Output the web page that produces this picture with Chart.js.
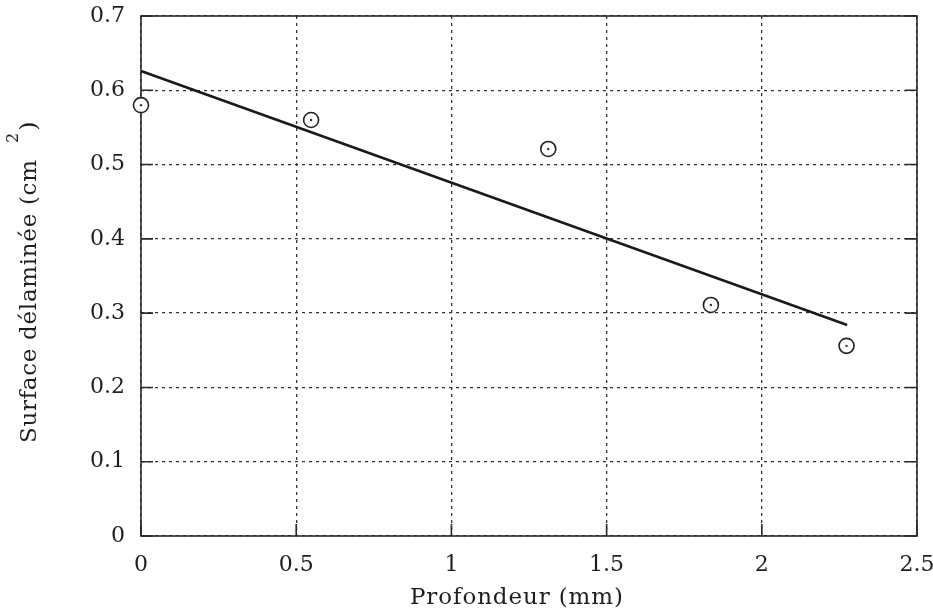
<!DOCTYPE html>
<html><head><meta charset="utf-8">
<script src="https://cdn.jsdelivr.net/npm/chart.js@4/dist/chart.umd.min.js"></script>
<style>html,body{margin:0;padding:0;background:#fff;}#wrap{width:933px;height:610px;}</style>
</head><body><div id="wrap"><canvas id="c" width="933" height="610"></canvas></div>
<script>
// ---- data ----
const depthMm = [0, 0.548, 1.312, 1.836, 2.273];
const areaCm2 = [0.580, 0.560, 0.521, 0.311, 0.256];
const fitDepth = [0, 2.275];
const fitArea = [0.626, 0.284];
const xTicks = [0, 0.5, 1, 1.5, 2, 2.5];
const yTicks = [0, 0.1, 0.2, 0.3, 0.4, 0.5, 0.6, 0.7];
const xTitle = 'Profondeur (mm)';
const yTitleMain = 'Surface délaminée (cm';
const yTitleSup = '2';
const yTitleClose = ')';

const FONT = '"DejaVu Serif", "Liberation Serif", serif';
const INK = '#1e1e1e';

const pts = depthMm.map((x, i) => ({x, y: areaCm2[i]}));
const fit = fitDepth.map((x, i) => ({x, y: fitArea[i]}));

function drawSpaced(ctx, text, x, y, target) {
  ctx.letterSpacing = '0px';
  const w = ctx.measureText(text).width;
  const n = text.length - 1;
  const ls = n > 0 ? Math.max(0, (target - w) / n) : 0;
  ctx.letterSpacing = ls + 'px';
  ctx.fillText(text, x, y);
  ctx.letterSpacing = '0px';
}

const framePlugin = {
  id: 'frame',
  beforeDatasetsDraw(chart) {
    const {ctx, chartArea: {left, right, top, bottom}, scales: {x, y}} = chart;
    ctx.save();
    ctx.setLineDash([]);
    ctx.strokeStyle = '#2a2a2a';
    ctx.lineWidth = 1.6;
    ctx.strokeRect(left, top, right - left, bottom - top);
    const tl = 12;
    ctx.beginPath();
    xTicks.forEach(v => {
      const px = x.getPixelForValue(v);
      ctx.moveTo(px, bottom); ctx.lineTo(px, bottom - tl);
    });
    yTicks.forEach(v => {
      const py = y.getPixelForValue(v);
      ctx.moveTo(left, py); ctx.lineTo(left + tl, py);
      ctx.moveTo(right, py); ctx.lineTo(right - tl, py);
    });
    ctx.stroke();
    ctx.restore();
  },
  afterDraw(chart) {
    const ctx = chart.ctx;
    ctx.save();
    ctx.fillStyle = INK;
    // x title
    ctx.font = '23px ' + FONT;
    ctx.textBaseline = 'alphabetic';
    ctx.textAlign = 'left';
    ctx.letterSpacing = '0px';
    drawSpaced(ctx, xTitle, 410, 604, 213);
    // y title
    ctx.save();
    ctx.translate(36, 443);
    ctx.rotate(-Math.PI / 2);
    ctx.textAlign = 'left';
    drawSpaced(ctx, yTitleMain, 0, 0, 283);
    ctx.restore();
    ctx.save();
    ctx.translate(14, 138);
    ctx.rotate(-Math.PI / 2);
    ctx.font = '16px ' + FONT;
    ctx.textAlign = 'center';
    ctx.textBaseline = 'middle';
    ctx.fillText(yTitleSup, 0, 0);
    ctx.restore();
    ctx.save();
    ctx.translate(30, 126);
    ctx.rotate(-Math.PI / 2);
    ctx.font = '23px ' + FONT;
    ctx.textAlign = 'center';
    ctx.textBaseline = 'middle';
    ctx.fillText(yTitleClose, 0, 0);
    ctx.restore();
    ctx.restore();
  }
};

const fmt = v => String(Math.round(v * 10) / 10);

new Chart(document.getElementById('c'), {
  type: 'scatter',
  data: {
    datasets: [
      { data: pts, pointRadius: 1.2, pointBackgroundColor: '#333', pointBorderWidth: 0, showLine: false, clip: false },
      { data: pts, pointRadius: 7.5, pointBackgroundColor: '#fff', pointBorderColor: '#222', pointBorderWidth: 1.6, showLine: false, clip: false },
      { type: 'line', data: fit, borderColor: '#1a1a1a', borderWidth: 2.6, pointRadius: 0, tension: 0, fill: false, clip: false }
    ]
  },
  options: {
    responsive: false,
    animation: false,
    devicePixelRatio: 1,
    layout: { padding: { left: 0, right: 16, top: 16, bottom: 0 } },
    plugins: { legend: { display: false }, tooltip: { enabled: false } },
    scales: {
      x: {
        type: 'linear', min: 0, max: 2.5,
        afterBuildTicks: s => { s.ticks = xTicks.map(v => ({value: v})); },
        afterFit: s => { s.height = 74; s.paddingLeft = 0; s.paddingRight = 0; },
        ticks: { font: { family: FONT, size: 22 }, color: INK, padding: 16, callback: fmt, maxRotation: 0, autoSkip: false },
        grid: { color: '#333', lineWidth: 1.3, drawTicks: false },
        border: { display: false, dash: [3, 4] }
      },
      y: {
        type: 'linear', min: 0, max: 0.7,
        afterBuildTicks: s => { s.ticks = yTicks.map(v => ({value: v})); },
        afterFit: s => { s.width = 141; s.paddingTop = 0; s.paddingBottom = 0; },
        ticks: { font: { family: FONT, size: 22 }, color: INK, padding: 16, callback: fmt, autoSkip: false },
        grid: { color: '#333', lineWidth: 1.3, drawTicks: false },
        border: { display: false, dash: [3, 4] }
      }
    }
  },
  plugins: [framePlugin]
});
</script></body></html>
